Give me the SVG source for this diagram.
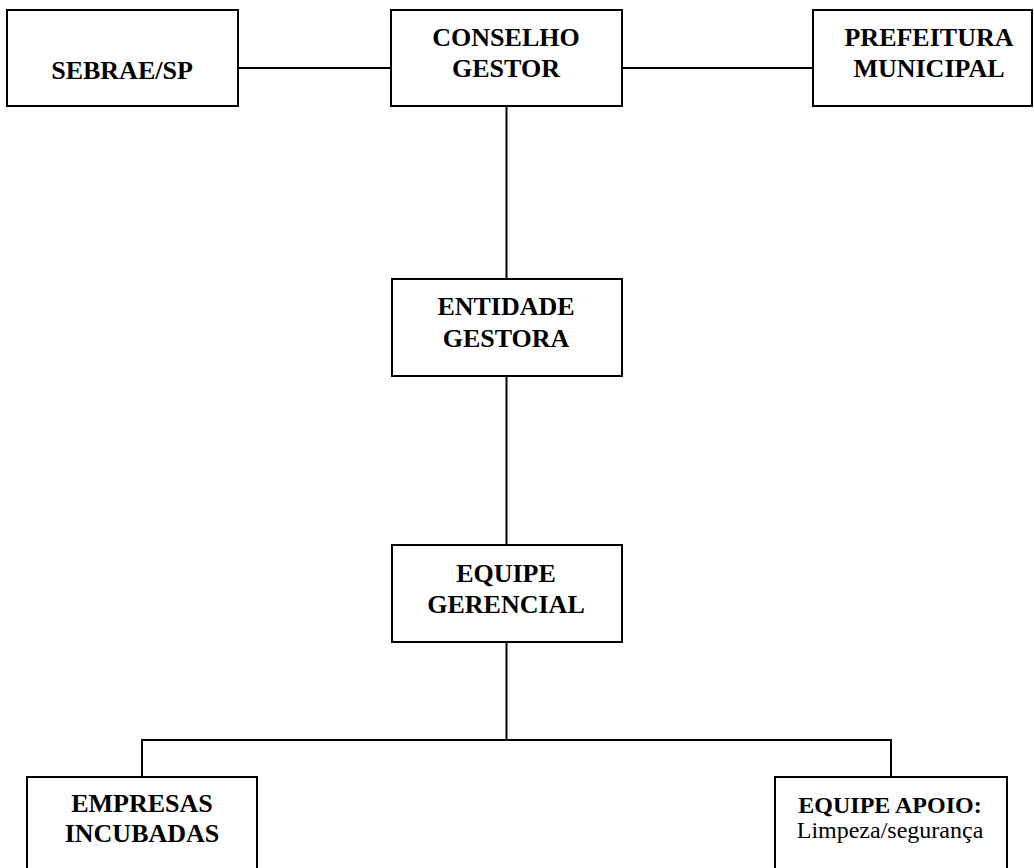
<svg xmlns="http://www.w3.org/2000/svg" width="1034" height="868" viewBox="0 0 1034 868">
  <style>
    .box { fill: #ffffff; stroke: #000000; stroke-width: 2; }
    .link { fill: none; stroke: #000000; stroke-width: 2; }
    .lbl { font-family: "Liberation Serif", "Times New Roman", serif; font-weight: bold; font-size: 26px; text-anchor: middle; fill: #000000; }
    .sm { font-family: "Liberation Serif", "Times New Roman", serif; font-size: 24px; text-anchor: middle; fill: #000000; }
  </style>
  <rect width="1034" height="868" fill="#ffffff"/>

  <!-- connectors -->
  <g id="connectors">
    <line class="link" x1="238" y1="68" x2="391" y2="68"/>
    <line class="link" x1="622" y1="68" x2="813" y2="68"/>
    <line class="link" x1="506.5" y1="106" x2="506.5" y2="279"/>
    <line class="link" x1="506.5" y1="376" x2="506.5" y2="545"/>
    <line class="link" x1="506.5" y1="642" x2="506.5" y2="740"/>
    <polyline class="link" points="142,777 142,740 891,740 891,777"/>
  </g>

  <g id="sebrae">
    <rect class="box" x="7" y="10" width="231" height="96"/>
    <text class="lbl" x="122" y="79">SEBRAE/SP</text>
  </g>

  <g id="conselho-gestor">
    <rect class="box" x="391" y="10" width="231" height="96"/>
    <text class="lbl" x="506" y="46">CONSELHO</text>
    <text class="lbl" x="506" y="77">GESTOR</text>
  </g>

  <g id="prefeitura">
    <rect class="box" x="813" y="10" width="219" height="96"/>
    <text class="lbl" x="929" y="46">PREFEITURA</text>
    <text class="lbl" x="929" y="77">MUNICIPAL</text>
  </g>

  <g id="entidade-gestora">
    <rect class="box" x="392" y="279" width="230" height="97"/>
    <text class="lbl" x="506" y="315">ENTIDADE</text>
    <text class="lbl" x="506" y="347">GESTORA</text>
  </g>

  <g id="equipe-gerencial">
    <rect class="box" x="392" y="545" width="230" height="97"/>
    <text class="lbl" x="506" y="582">EQUIPE</text>
    <text class="lbl" x="506" y="613">GERENCIAL</text>
  </g>

  <g id="empresas-incubadas">
    <rect class="box" x="27" y="777" width="230" height="110"/>
    <text class="lbl" x="142" y="812">EMPRESAS</text>
    <text class="lbl" x="142" y="842">INCUBADAS</text>
  </g>

  <g id="equipe-apoio">
    <rect class="box" x="775" y="777" width="232" height="110"/>
    <text class="lbl" x="890" y="813" style="font-size:24px">EQUIPE APOIO:</text>
    <text class="sm" x="890" y="838">Limpeza/segurança</text>
  </g>
</svg>
